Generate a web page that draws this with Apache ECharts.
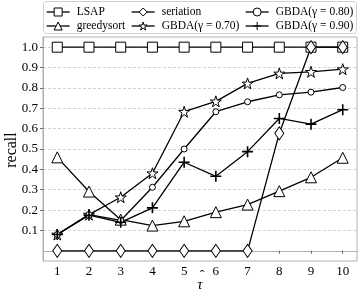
<!DOCTYPE html>
<html>
<head>
<meta charset="utf-8">
<script src="https://cdn.jsdelivr.net/npm/echarts@6/dist/echarts.min.js"></script>
<style>
  html, body { margin: 0; padding: 0; background: #fff; }
  #main { width: 359px; height: 290px; }
</style>
</head>
<body>
<div id="main"></div>
<script>
var taus = [1, 2, 3, 4, 5, 6, 7, 8, 9, 10];
var yTicks = [0.1, 0.2, 0.3, 0.4, 0.5, 0.6, 0.7, 0.8, 0.9, 1.0];

var lsap = [1, 1, 1, 1, 1, 1, 1, 1, 1, 1];
var greedysort = [0.459, 0.291, 0.153, 0.124, 0.145, 0.19, 0.227, 0.293, 0.361, 0.457];
var seriation = [0, 0, 0, 0, 0, 0, 0, 0.577, 1.0, 1.0];
var gbda70 = [0.08, 0.178, 0.263, 0.381, 0.683, 0.734, 0.822, 0.871, 0.879, 0.892];
var gbda80 = [0.08, 0.178, 0.149, 0.312, 0.5, 0.683, 0.732, 0.766, 0.779, 0.802];
var gbda90 = [0.08, 0.175, 0.14, 0.211, 0.435, 0.366, 0.487, 0.65, 0.622, 0.693];

var chart = echarts.init(document.getElementById('main'));

var starPath = 'path://M0,-1L0.225,-0.309L0.951,-0.309L0.363,0.118L0.588,0.809L0,0.382L-0.588,0.809L-0.363,0.118L-0.951,-0.309L-0.225,-0.309Z';
var plusPath = 'path://M0,-1L0,1M-1,0L1,0';
var serif = '"Liberation Serif", "DejaVu Serif", serif';

function pairs(vals) {
    return vals.map(function (v, i) { return [taus[i], v]; });
}

function mkSeries(name, vals, symbol, size, bw) {
    return {
        name: name,
        type: 'line',
        data: pairs(vals),
        symbol: symbol,
        symbolSize: size,
        showAllSymbol: true,
        lineStyle: { color: '#000', width: 1.3 },
        itemStyle: { color: '#fff', borderColor: '#000', borderWidth: bw || 1 },
        emphasis: { disabled: true },
        z: 3
    };
}

function mkLegend(left, names) {
    return {
        orient: 'vertical',
        left: left,
        top: 6,
        padding: 0,
        itemWidth: 23,
        itemHeight: 10,
        itemGap: 2,
        data: names,
        itemStyle: { color: '#fff', borderColor: '#000', borderWidth: 1 },
        lineStyle: { color: '#000', width: 1.3 },
        textStyle: { fontFamily: serif, fontSize: 11.5, lineHeight: 11, color: '#000', padding: [0, 0, 0, 2] }
    };
}

var option = {
    animation: false,
    backgroundColor: '#fff',
    grid: {
        left: 43, right: 2, top: 37, bottom: 29,
        outerBoundsMode: 'none',
        containLabel: false,
        show: true, borderColor: '#b0b0b0', borderWidth: 1
    },
    graphic: [{
        type: 'rect',
        shape: { x: 43.5, y: 1.5, width: 313, height: 32, r: 3 },
        style: { fill: '#fff', stroke: '#d0d0d0', lineWidth: 1 },
        z: 0
    }, {
        type: 'text',
        x: 200, y: 285,
        style: { text: 'τ', fontFamily: serif, fontSize: 15, fontStyle: 'italic', fill: '#000', align: 'center', verticalAlign: 'middle' }
    }, {
        type: 'text',
        x: 202, y: 276,
        style: { text: 'ˆ', fontFamily: serif, fontSize: 14, fill: '#000', align: 'center', verticalAlign: 'middle' }
    }, {
        type: 'text',
        x: 12, y: 150,
        rotation: Math.PI / 2,
        style: { text: 'recall', fontFamily: serif, fontSize: 16, fill: '#000', align: 'center', verticalAlign: 'middle' }
    }],
    legend: [
        mkLegend(46, ['LSAP', 'greedysort']),
        mkLegend(131, ['seriation', 'GBDA(γ = 0.70)']),
        mkLegend(245, ['GBDA(γ = 0.80)', 'GBDA(γ = 0.90)'])
    ],
    xAxis: {
        type: 'value',
        min: 0.55,
        max: 10.45,
        axisLine: { show: true, lineStyle: { color: '#b0b0b0' } },
        axisTick: { show: true, length: 3, customValues: taus, lineStyle: { color: '#666' } },
        axisLabel: { customValues: taus, fontFamily: serif, fontSize: 13, color: '#000', margin: 4 },
        splitLine: { show: false }
    },
    yAxis: {
        type: 'value',
        min: -0.05,
        max: 1.05,
        axisLine: { show: true, lineStyle: { color: '#b0b0b0' } },
        axisTick: { show: true, length: 3, customValues: yTicks, lineStyle: { color: '#666' } },
        axisLabel: {
            customValues: yTicks, fontFamily: serif, fontSize: 13, color: '#000', margin: 5,
            formatter: function (v) { return v.toFixed(1); }
        },
        splitLine: { show: true, lineStyle: { color: '#c8c8c8', type: [3, 2], width: 0.8 } }
    },
    series: [
        mkSeries('LSAP', lsap, 'rect', 10),
        mkSeries('greedysort', greedysort, 'triangle', 11),
        mkSeries('seriation', seriation, 'diamond', [9, 13]),
        mkSeries('GBDA(γ = 0.70)', gbda70, starPath, 11),
        mkSeries('GBDA(γ = 0.80)', gbda80, 'circle', 6),
        mkSeries('GBDA(γ = 0.90)', gbda90, plusPath, 11, 1.6)
    ]
};

chart.setOption(option);
</script>
</body>
</html>
